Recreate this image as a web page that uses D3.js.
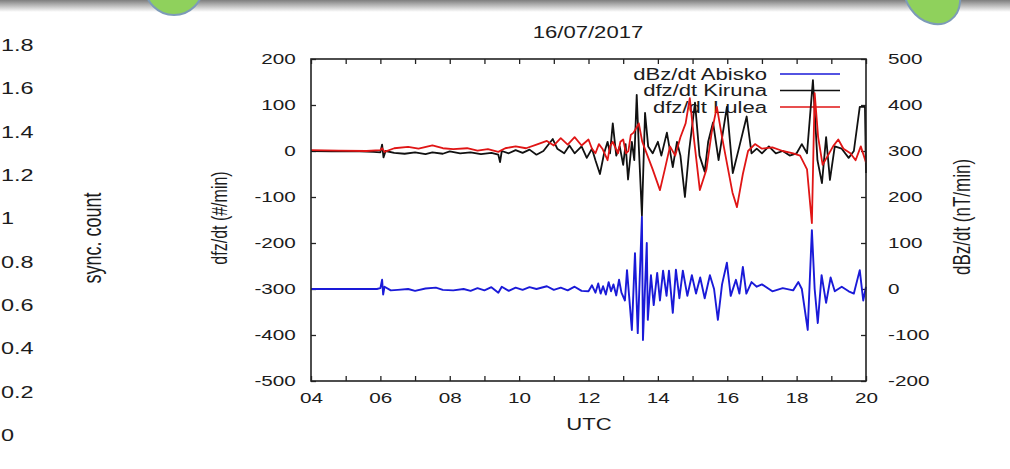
<!DOCTYPE html>
<html>
<head>
<meta charset="utf-8">
<script src="https://cdn.jsdelivr.net/npm/d3@7"></script>
<style>
  body { margin: 0; background: #fff; }
  text { font-family: "Liberation Sans", Arial, sans-serif; fill: #1c1c1c; }
</style>
</head>
<body>
<svg id="chart" width="1010" height="469"></svg>
<script>
// data: hours (UTC) and values
const kirunaT = [4.00,4.60,5.20,5.80,6.00,6.05,6.09,6.15,6.40,6.70,7.00,7.30,7.50,7.80,8.00,8.30,8.60,8.90,9.20,9.40,9.45,9.50,9.70,9.90,10.10,10.30,10.50,10.70,10.97,11.10,11.30,11.45,11.60,11.80,11.95,12.10,12.20,12.33,12.45,12.55,12.62,12.70,12.80,12.90,13.00,13.07,13.14,13.25,13.32,13.39,13.45,13.54,13.63,13.72,13.85,14.00,14.10,14.26,14.43,14.55,14.65,14.78,14.90,15.07,15.20,15.35,15.45,15.59,15.75,15.99,16.16,16.35,16.56,16.70,16.85,17.00,17.20,17.40,17.60,17.80,18.00,18.15,18.30,18.47,18.60,18.73,18.85,18.96,19.10,19.30,19.50,19.65,19.82,19.97,20.00];
const kirunaV = [0,-1,0,-2,-3,14,-14,0,-4,-6,-3,-7,-3,-6,-1,-5,-3,-7,-4,-8,-24,0,-5,2,-4,3,-8,0,26,5,-5,12,-5,10,-15,5,-20,-50,-5,20,-5,60,-10,10,-30,15,-62,20,-20,122,10,-140,83,10,-5,20,-10,40,-35,20,-10,-100,0,105,-10,-45,20,62,-20,96,-48,10,75,-5,5,-5,10,-5,0,-10,-5,15,-5,154,-20,-70,30,-63,10,5,-15,0,96,96,-48];

const luleaT = [4.00,4.80,5.60,6.00,6.05,6.12,6.40,6.80,7.10,7.50,7.80,8.10,8.50,8.80,9.10,9.40,9.60,9.90,10.20,10.50,10.80,11.00,11.20,11.40,11.60,11.80,12.00,12.10,12.20,12.30,12.40,12.55,12.62,12.70,12.85,12.92,13.00,13.08,13.15,13.22,13.30,13.45,13.55,13.70,13.85,14.06,14.20,14.35,14.50,14.65,14.80,14.92,15.05,15.21,15.40,15.55,15.70,15.85,16.00,16.15,16.28,16.45,16.60,16.80,17.00,17.30,17.60,17.90,18.10,18.30,18.44,18.52,18.62,18.75,18.90,19.05,19.20,19.35,19.55,19.70,19.85,20.00];
const luleaV = [2,1,0,2,6,-2,6,9,5,12,6,4,6,1,4,-2,6,10,6,14,22,12,28,14,30,12,25,5,-5,15,5,-20,10,20,-5,20,25,-5,0,35,40,60,20,-10,-40,-85,-40,10,-10,30,60,115,20,-85,-40,40,96,30,-30,-90,-122,-50,0,15,5,8,0,-5,-10,-40,-157,126,30,-30,-10,10,25,5,-5,-20,10,-25];

const abiskoT = [4.00,5.90,6.00,6.05,6.08,6.12,6.30,6.50,6.80,7.00,7.30,7.60,7.80,8.10,8.40,8.60,8.80,9.00,9.20,9.40,9.50,9.70,9.90,10.10,10.30,10.50,10.80,11.00,11.20,11.40,11.60,11.80,12.00,12.10,12.20,12.28,12.35,12.42,12.50,12.58,12.65,12.72,12.80,12.88,12.95,13.05,13.11,13.25,13.34,13.42,13.54,13.57,13.68,13.71,13.80,13.88,13.98,14.06,14.15,14.25,14.32,14.43,14.52,14.62,14.72,14.85,14.98,15.10,15.22,15.35,15.50,15.62,15.73,15.85,15.99,16.10,16.25,16.35,16.45,16.55,16.70,16.85,17.00,17.30,17.60,17.90,18.05,18.15,18.32,18.44,18.52,18.61,18.72,18.85,18.98,19.10,19.30,19.50,19.65,19.82,19.92,20.00];
const abiskoV = [0,0,2,20,-12,5,-3,-2,0,-4,1,3,-2,-3,0,-4,2,-3,4,-8,5,-4,3,-2,4,0,6,-2,3,-3,5,-4,-5,8,-8,12,-10,6,-12,15,-5,10,-14,20,-8,-25,41,-89,78,-96,157,-111,100,-67,30,-35,35,-25,40,-15,40,-52,42,-20,40,-15,30,-10,25,-20,30,0,-67,10,57,-15,20,-10,48,-10,15,5,10,-5,2,-3,15,0,-89,128,0,-74,30,-30,25,-5,5,-5,-10,41,-25,5];

const leftTicks = [200, 100, 0, -100, -200, -300, -400, -500];
const rightTicks = [500, 400, 300, 200, 100, 0, -100, -200];
const syncTicks = [0, 0.2, 0.4, 0.6, 0.8, 1, 1.2, 1.4, 1.6, 1.8];

const legendNames = ["dBz/dt Abisko", "dfz/dt Kiruna", "dfz/dt Lulea"];
const colors = ["#1a1ad8", "#111111", "#e01515"];

// the slide image is stretched sideways, text too
const SX = 1.38;

const svg = d3.select("#chart");

function label(txt, x, y, size, anchor, rot) {
    return svg.append("text")
        .attr("transform", "translate(" + x + "," + y + ") scale(" + SX + ",1)" + (rot ? " rotate(" + rot + ")" : ""))
        .attr("text-anchor", anchor)
        .attr("dy", "0.35em")
        .style("font-size", size + "px")
        .text(txt);
}

// slide bits behind the chart
const grad = svg.append("defs").append("linearGradient")
    .attr("id", "band").attr("x1", 0).attr("y1", 0).attr("x2", 0).attr("y2", 1);
grad.append("stop").attr("offset", "0%").attr("stop-color", "#7e7e7e");
grad.append("stop").attr("offset", "100%").attr("stop-color", "#ffffff");
svg.append("rect").attr("x", 0).attr("y", 0).attr("width", 1010).attr("height", 12)
    .attr("fill", "url(#band)");
svg.append("circle").attr("cx", 174).attr("cy", -14).attr("r", 29)
    .attr("fill", "#8fd15c").attr("stroke", "#7d9bb8").attr("stroke-width", 2);
svg.append("ellipse").attr("cx", 932).attr("cy", -6).attr("rx", 26).attr("ry", 32)
    .attr("transform", "rotate(-35,932,-6)")
    .attr("fill", "#8fd15c").attr("stroke", "#7d9bb8").attr("stroke-width", 2);

// left over axis from the slide
const ySync = d3.scaleLinear().domain([0, 1.8]).range([435, 45]);
syncTicks.forEach(d => label(d, 1, ySync(d), 17, "start"));
label("sync. count", 92, 238, 18, "middle", -90);

// chart area
const pLeft = 311, pRight = 866, pTop = 59, pBottom = 381;
const x = d3.scaleLinear().domain([4, 20]).range([pLeft, pRight]);
const yL = d3.scaleLinear().domain([-500, 200]).range([pBottom, pTop]);
const yR = d3.scaleLinear().domain([-200, 500]).range([pBottom, pTop]);

const plain = d => String(d);   // keep ascii hyphen as minus

// axes with inward ticks
const gx = svg.append("g").attr("transform", "translate(0," + pBottom + ")")
    .call(d3.axisBottom(x).tickValues(d3.range(4, 21, 1)).tickSize(-5).tickPadding(11)
        .tickFormat(d => d % 2 === 0 ? d3.format("02d")(d) : ""));
const gxTop = svg.append("g").attr("transform", "translate(0," + pTop + ")")
    .call(d3.axisTop(x).tickValues(d3.range(4, 21, 1)).tickSize(-5).tickFormat(""));
const gyL = svg.append("g").attr("transform", "translate(" + pLeft + ",0)")
    .call(d3.axisLeft(yL).tickValues(leftTicks).tickSize(-5).tickPadding(11).tickFormat(plain));
const gyR = svg.append("g").attr("transform", "translate(" + pRight + ",0)")
    .call(d3.axisRight(yR).tickValues(rightTicks).tickSize(-5).tickPadding(16).tickFormat(plain));

[gx, gxTop, gyL, gyR].forEach(g => {
    g.select(".domain").remove();
    g.selectAll(".tick line").attr("stroke", "#222").attr("stroke-width", 1.3);
    g.selectAll("text").style("font-size", "15px").attr("fill", "#1c1c1c")
        .style("font-family", '"Liberation Sans", Arial, sans-serif')
        .attr("transform", "scale(" + SX + ",1)");
});
gyR.selectAll("text").attr("text-anchor", "start");

// legend (lines get drawn over it, like the original)
legendNames.forEach((name, i) => {
    const ly = 74 + i * 16.5;
    label(name, 767, ly, 16, "end");
    svg.append("line")
        .attr("x1", 780).attr("x2", 840).attr("y1", ly).attr("y2", ly)
        .attr("stroke", colors[i]).attr("stroke-width", 1.4);
});

// series
const lineL = d3.line().x(d => x(d[0])).y(d => yL(d[1]));
const lineR = d3.line().x(d => x(d[0])).y(d => yR(d[1]));

svg.append("path")
    .datum(d3.zip(abiskoT, abiskoV))
    .attr("d", lineR)
    .attr("fill", "none").attr("stroke", colors[0]).attr("stroke-width", 1.9)
    .attr("stroke-linejoin", "round");
svg.append("path")
    .datum(d3.zip(kirunaT, kirunaV))
    .attr("d", lineL)
    .attr("fill", "none").attr("stroke", colors[1]).attr("stroke-width", 1.8)
    .attr("stroke-linejoin", "round");
svg.append("path")
    .datum(d3.zip(luleaT, luleaV))
    .attr("d", lineL)
    .attr("fill", "none").attr("stroke", colors[2]).attr("stroke-width", 1.8)
    .attr("stroke-linejoin", "round");

// frame
svg.append("rect")
    .attr("x", pLeft).attr("y", pTop)
    .attr("width", pRight - pLeft).attr("height", pBottom - pTop)
    .attr("fill", "none").attr("stroke", "#222").attr("stroke-width", 1.6);

// titles
label("16/07/2017", 588, 32, 16, "middle");
label("UTC", 589, 424, 16, "middle");
label("dfz/dt (#/min)", 219, 218, 16, "middle", -90);
label("dBz/dt (nT/min)", 962, 217, 17, "middle", -90);
</script>
</body>
</html>
